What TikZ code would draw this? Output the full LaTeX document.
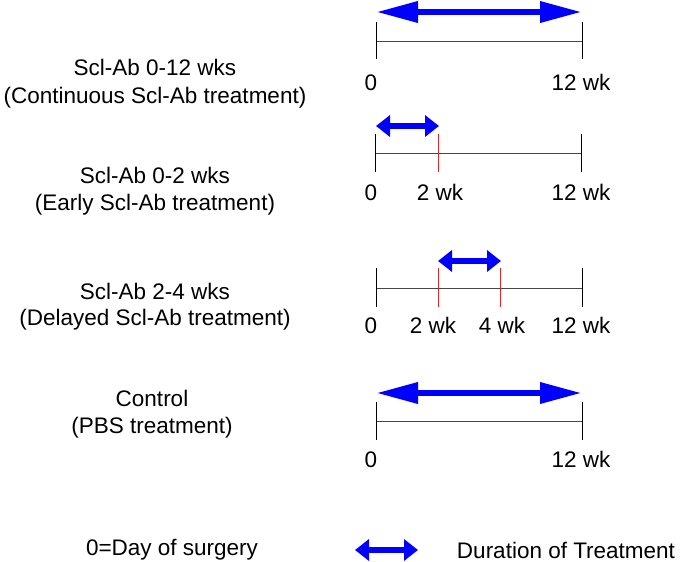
\documentclass[tikz,border=0pt]{standalone}
\usepackage{fontspec}
\setmainfont{Liberation Sans}
\usetikzlibrary{arrows.meta}
\definecolor{tlgray}{RGB}{70,70,70}
\definecolor{tickred}{RGB}{220,40,40}
\definecolor{durblue}{RGB}{0,0,255}
\tikzset{
  txt/.style={font=\fontsize{22.5}{27}\selectfont, inner sep=0pt, anchor=base},
  tline/.style={draw=tlgray, line width=1pt},
  tick/.style={draw=black, line width=1pt},
  redtick/.style={draw=tickred, line width=1pt},
  longdur/.style={draw=durblue, line width=6.5pt,
    {Triangle[length=42pt,width=20pt]}-{Triangle[length=42pt,width=20pt]}},
  shortdur/.style={draw=durblue, line width=6.5pt,
    {Triangle[length=14pt,width=21pt]}-{Triangle[length=14pt,width=21pt]}},
}
\begin{document}
\begin{tikzpicture}[x=1pt,y=-1pt]
\useasboundingbox[fill=white] (0,0) rectangle (681,562);

% ---------- Panel 1 ----------
\node[txt] (g1a) at (155,75) {Scl-Ab 0-12 wks};
\node[txt] (g1b) at (155,103) {(Continuous Scl-Ab treatment)};
\coordinate (p1s) at (376,41); \coordinate (p1e) at (582,41);
\coordinate (p1st) at (376,22); \coordinate (p1sb) at (376,59);
\coordinate (p1et) at (582,22); \coordinate (p1eb) at (582,59);
\draw[tline] (p1s) -- (p1e);
\draw[tick] (p1st) -- (p1sb);
\draw[tick] (p1et) -- (p1eb);
\coordinate (a1s) at (376,12); \coordinate (a1e) at (582,12);
\draw[longdur] (a1s) -- (a1e);
\node[txt] (l1a) at (371,90) {0};
\node[txt] (l1b) at (581,90) {12 wk};

% ---------- Panel 2 ----------
\node[txt] (g2a) at (155,183) {Scl-Ab 0-2 wks};
\node[txt] (g2b) at (155,210) {(Early Scl-Ab treatment)};
\coordinate (p2s) at (375,153); \coordinate (p2e) at (581,153);
\coordinate (p2st) at (375,134); \coordinate (p2sb) at (375,172);
\coordinate (p2mt) at (438,134); \coordinate (p2mb) at (438,172);
\coordinate (p2et) at (581,134); \coordinate (p2eb) at (581,172);
\draw[tline] (p2s) -- (p2e);
\draw[tick] (p2st) -- (p2sb);
\draw[redtick] (p2mt) -- (p2mb);
\draw[tick] (p2et) -- (p2eb);
\coordinate (a2s) at (376,126); \coordinate (a2e) at (439,126);
\draw[shortdur] (a2s) -- (a2e);
\node[txt] (l2a) at (371,200) {0};
\node[txt] (l2b) at (440,200) {2 wk};
\node[txt] (l2c) at (581,200) {12 wk};

% ---------- Panel 3 ----------
\node[txt] (g3a) at (155,299) {Scl-Ab 2-4 wks};
\node[txt] (g3b) at (155,325) {(Delayed Scl-Ab treatment)};
\coordinate (p3s) at (376,288); \coordinate (p3e) at (582,288);
\coordinate (p3st) at (376,268); \coordinate (p3sb) at (376,307);
\coordinate (p3at) at (438,268); \coordinate (p3ab) at (438,307);
\coordinate (p3bt) at (500,268); \coordinate (p3bb) at (500,307);
\coordinate (p3et) at (582,268); \coordinate (p3eb) at (582,307);
\draw[tline] (p3s) -- (p3e);
\draw[tick] (p3st) -- (p3sb);
\draw[redtick] (p3at) -- (p3ab);
\draw[redtick] (p3bt) -- (p3bb);
\draw[tick] (p3et) -- (p3eb);
\coordinate (a3s) at (438,261); \coordinate (a3e) at (501,261);
\draw[shortdur] (a3s) -- (a3e);
\node[txt] (l3a) at (371,333) {0};
\node[txt] (l3b) at (433,333) {2 wk};
\node[txt] (l3c) at (502,333) {4 wk};
\node[txt] (l3d) at (581,333) {12 wk};

% ---------- Panel 4 ----------
\node[txt] (g4a) at (152,406) {Control};
\node[txt] (g4b) at (152,433) {(PBS treatment)};
\coordinate (p4s) at (376,421); \coordinate (p4e) at (582,421);
\coordinate (p4st) at (376,402); \coordinate (p4sb) at (376,440);
\coordinate (p4et) at (582,402); \coordinate (p4eb) at (582,440);
\draw[tline] (p4s) -- (p4e);
\draw[tick] (p4st) -- (p4sb);
\draw[tick] (p4et) -- (p4eb);
\coordinate (a4s) at (376,393); \coordinate (a4e) at (582,393);
\draw[longdur] (a4s) -- (a4e);
\node[txt] (l4a) at (371,467) {0};
\node[txt] (l4b) at (581,467) {12 wk};

% ---------- Legend ----------
\node[txt] (leg1) at (172,555) {0=Day of surgery};
\coordinate (lgs) at (355,550); \coordinate (lge) at (418,550);
\draw[shortdur] (lgs) -- (lge);
\node[txt] (leg2) at (566,558) {Duration of Treatment};
\end{tikzpicture}
\end{document}
